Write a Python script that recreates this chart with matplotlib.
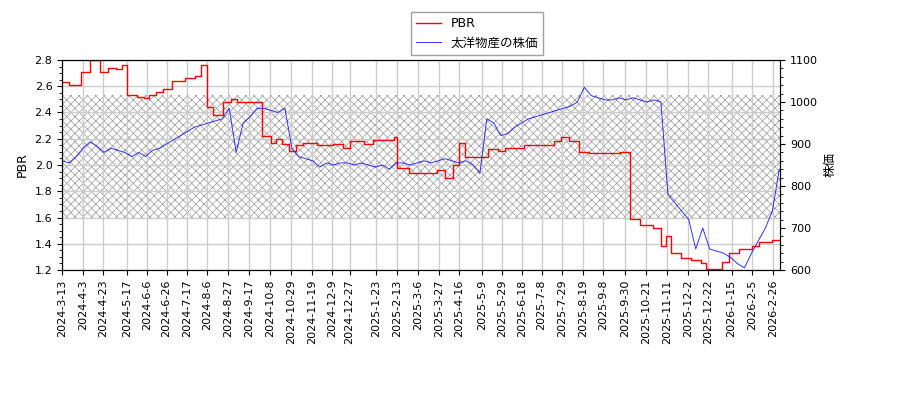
import matplotlib.pyplot as plt
import pandas as pd

plt.rcParams['font.family'] = ['DejaVu Sans', 'Noto Sans CJK JP']
plt.rcParams['hatch.linewidth'] = 0.5

price_dates = pd.date_range('2024-03-13', periods=104, freq='7D')
price = [860, 855, 870, 890, 905, 895, 880, 890, 885, 880, 870, 880, 870, 885, 890, 900,
         910, 920, 930, 940, 945, 950, 955, 960, 985, 880, 950, 965, 985, 985, 980, 975,
         985, 890, 870, 865, 860, 845, 855, 850, 855, 855, 850, 855, 850, 845, 850, 840,
         855, 855, 850, 855, 860, 855, 860, 865, 860, 855, 860, 850, 830, 960, 950, 920,
         925, 940, 950, 960, 965, 970, 975, 980, 985, 990, 1000, 1035, 1015, 1010, 1005,
         1005, 1010, 1005, 1010, 1005, 1000, 1005, 1000, 780, 760, 740, 720, 650, 700,
         650, 645, 640, 630, 615, 605, 640, 670, 700, 740, 840]

pbr_dates = pd.to_datetime([
    '2024-03-13', '2024-03-20', '2024-04-01', '2024-04-10', '2024-04-20', '2024-04-28',
    '2024-05-06', '2024-05-12', '2024-05-17', '2024-05-27', '2024-06-03', '2024-06-08',
    '2024-06-15', '2024-06-22', '2024-07-01', '2024-07-15', '2024-07-25', '2024-07-31',
    '2024-08-06', '2024-08-12', '2024-08-22', '2024-08-30', '2024-09-05', '2024-09-30',
    '2024-10-09', '2024-10-14', '2024-10-20', '2024-10-27', '2024-11-03', '2024-11-10',
    '2024-11-24', '2024-12-10', '2024-12-20', '2024-12-27', '2025-01-10', '2025-01-20',
    '2025-02-10', '2025-02-13', '2025-02-25', '2025-03-25', '2025-04-02', '2025-04-10',
    '2025-04-16', '2025-04-22', '2025-05-15', '2025-05-25', '2025-06-01', '2025-06-20',
    '2025-07-20', '2025-07-28', '2025-08-05', '2025-08-15', '2025-08-25', '2025-09-25',
    '2025-10-05', '2025-10-15', '2025-10-28', '2025-11-05', '2025-11-10', '2025-11-15',
    '2025-11-25', '2025-12-05', '2025-12-15', '2025-12-20', '2026-01-05', '2026-01-12',
    '2026-01-22', '2026-02-05', '2026-02-12', '2026-02-25', '2026-03-04'])
pbr = [2.63, 2.61, 2.71, 2.80, 2.71, 2.74, 2.73, 2.76, 2.53, 2.52, 2.51, 2.53, 2.56, 2.58,
       2.64, 2.66, 2.68, 2.76, 2.44, 2.38, 2.48, 2.50, 2.48, 2.22, 2.17, 2.20, 2.16, 2.11,
       2.15, 2.17, 2.15, 2.16, 2.13, 2.18, 2.16, 2.19, 2.21, 1.98, 1.94, 1.96, 1.90, 2.00,
       2.17, 2.06, 2.12, 2.11, 2.13, 2.15, 2.18, 2.21, 2.18, 2.10, 2.09, 2.10, 1.59, 1.54,
       1.52, 1.38, 1.46, 1.33, 1.29, 1.28, 1.25, 1.21, 1.26, 1.33, 1.36, 1.38, 1.41, 1.43, 1.43]

band_low, band_high = 1.59, 2.53
tick_labels = ['2024-3-13', '2024-4-3', '2024-4-23', '2024-5-17', '2024-6-6', '2024-6-26',
               '2024-7-17', '2024-8-6', '2024-8-27', '2024-9-17', '2024-10-8', '2024-10-29',
               '2024-11-19', '2024-12-9', '2024-12-27', '2025-1-23', '2025-2-13', '2025-3-6',
               '2025-3-27', '2025-4-16', '2025-5-9', '2025-5-29', '2025-6-18', '2025-7-8',
               '2025-7-29', '2025-8-19', '2025-9-8', '2025-9-30', '2025-10-21', '2025-11-11',
               '2025-12-2', '2025-12-22', '2026-1-15', '2026-2-5', '2026-2-26']
tick_dates = pd.to_datetime(tick_labels, format='%Y-%m-%d')

fig = plt.figure(figsize=(9, 4), dpi=100)
ax = fig.add_axes([0.069, 0.325, 0.798, 0.525])
ax2 = ax.twinx()

ax.axhspan(band_low, band_high, facecolor='none', edgecolor='#999999', hatch='xxxx', lw=0)
l1, = ax.plot(pbr_dates, pbr, color='red', lw=1, drawstyle='steps-post', label='PBR')
l2, = ax2.plot(price_dates, price, color='blue', lw=0.7, alpha=0.8, label='太洋物産の株価')

ax.set_ylim(1.2, 2.8)
ax2.set_ylim(600, 1100)
ax.set_xlim(pd.Timestamp('2024-03-13'), pd.Timestamp('2026-03-05'))
ax.set_xticks(tick_dates)
ax.set_xticklabels(tick_labels, rotation=90, fontsize=8)
ax.tick_params(axis='y', labelsize=8)
ax2.tick_params(axis='y', labelsize=8)
ax.minorticks_on()
ax2.minorticks_on()
ax.tick_params(axis='x', which='minor', bottom=False)
ax2.tick_params(axis='x', which='minor', bottom=False)
ax.grid(True, color='#cccccc', lw=1)
ax.set_ylabel('PBR', fontsize=9)
ax2.set_ylabel('株価', fontsize=9)

fig.legend([l1, l2], ['PBR', '太洋物産の株価'], loc='upper center', bbox_to_anchor=(0.53, 0.985),
           fontsize=9, fancybox=False, edgecolor='#888888')

fig.savefig('out.png')
